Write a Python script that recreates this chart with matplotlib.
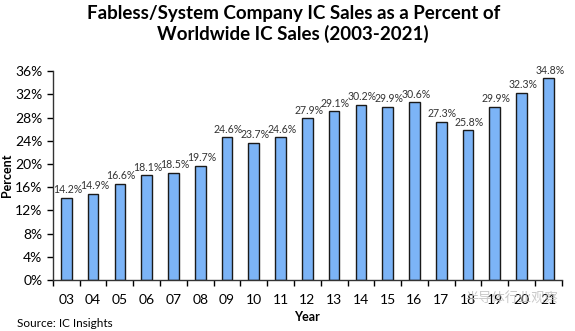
import matplotlib.pyplot as plt
from matplotlib.ticker import FixedLocator, PercentFormatter

years = ['03', '04', '05', '06', '07', '08', '09', '10', '11', '12',
         '13', '14', '15', '16', '17', '18', '19', '20', '21']
share = [14.2, 14.9, 16.6, 18.1, 18.5, 19.7, 24.6, 23.7, 24.6, 27.9,
         29.1, 30.2, 29.9, 30.6, 27.3, 25.8, 29.9, 32.3, 34.8]
yticks = [0, 4, 8, 12, 16, 20, 24, 28, 32, 36]

plt.rcParams['font.family'] = ['Lato', 'DejaVu Sans']

fig = plt.figure(figsize=(5.75, 3.31), dpi=100)
ax = fig.add_axes([0.092, 0.154, 0.885, 0.631])

x = list(range(len(years)))
bars = ax.bar(x, share, width=0.4, color='#7cb4f7', edgecolor='#1a1a1a', linewidth=1.0)
for xi, v in zip(x, share):
    ax.text(xi + 0.05, v + 0.4, '%.1f%%' % v, ha='center', va='bottom', fontsize=7.6, color='#333333')

ax.set_xlim(-0.5, len(years) - 0.5)
ax.set_ylim(0, 36)
ax.set_yticks(yticks)
ax.yaxis.set_major_formatter(PercentFormatter(decimals=0))
ax.set_xticks(x)
ax.set_xticklabels(years)
ax.xaxis.set_minor_locator(FixedLocator([i + 0.5 for i in range(-1, len(years))]))
ax.tick_params(axis='x', which='major', length=0, labelsize=10, pad=10)
ax.tick_params(axis='x', which='minor', length=4, direction='out', width=1.0)
ax.tick_params(axis='y', length=4, direction='out', labelsize=10, width=1.0)

for side in ['top', 'right']:
    ax.spines[side].set_visible(False)
for side in ['left', 'bottom']:
    ax.spines[side].set_linewidth(1.0)
    ax.spines[side].set_color('#333333')

ax.set_ylabel('Percent', fontsize=9, fontweight='bold')
ax.yaxis.set_label_coords(-0.078, 0.5)
ax.set_xlabel('Year', fontsize=9, fontweight='bold', labelpad=4)

fig.text(0.51, 0.985, 'Fabless/System Company IC Sales as a Percent of\nWorldwide IC Sales (2003-2021)',
         ha='center', va='top', fontsize=13.5, fontweight='bold', linespacing=1.2)
fig.text(0.03, 0.005, 'Source: IC Insights', fontsize=8.5, ha='left', va='bottom')
fig.text(0.81, 0.075, '半导体行业观察', fontsize=9.5, color='#bbbbbb', alpha=0.8,
         family=['Noto Sans CJK SC', 'DejaVu Sans'], ha='left', va='bottom')

fig.savefig('out.png', dpi=100)
